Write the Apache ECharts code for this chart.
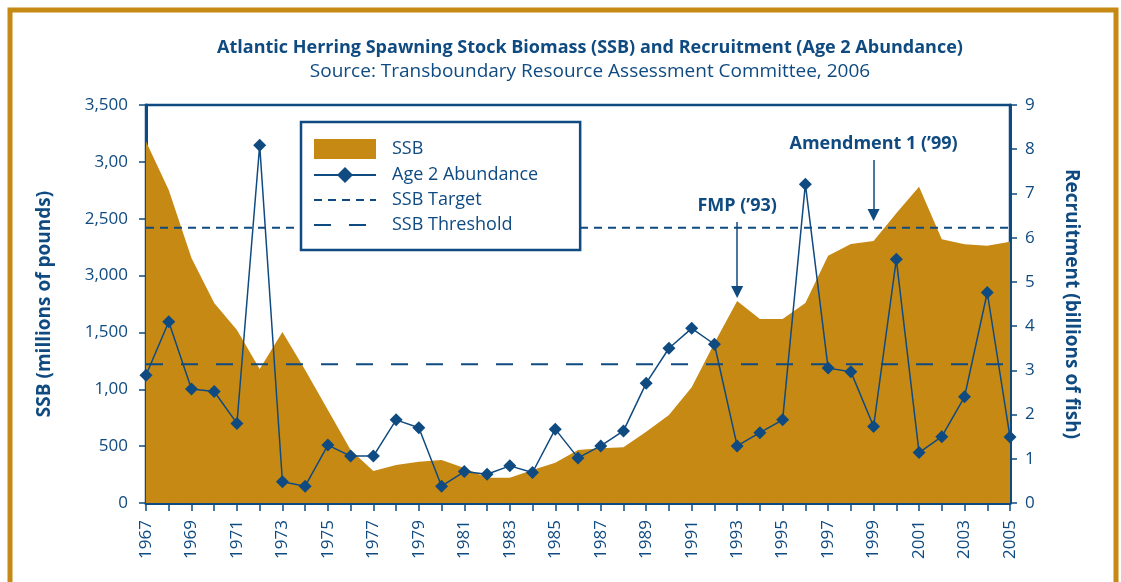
<!DOCTYPE html>
<html>
<head>
<meta charset="utf-8">
<style>
  html, body { margin: 0; padding: 0; background: #fff; }
  #chart { width: 1121px; height: 582px; }
</style>
<script src="https://cdn.jsdelivr.net/npm/echarts@6/dist/echarts.min.js"></script>
</head>
<body>
<div id="chart"></div>
<script>
// years on the x axis
const years = []
for (let y = 1967; y <= 2005; y++) years.push(String(y))

// SSB, millions of pounds (left axis)
const ssb = [3178, 2753, 2155, 1759, 1521, 1178, 1504, 1170, 818, 466, 281,
  334, 363, 378, 308, 222, 222, 290, 354, 466, 481, 490, 627, 774, 1017,
  1407, 1776, 1618, 1618, 1759, 2175, 2278, 2304, 2548, 2782, 2319, 2275, 2263, 2298]

// Age 2 abundance, billions of fish (right axis)
const age2 = [2.89, 4.10, 2.58, 2.52, 1.80, 8.09, 0.48, 0.38, 1.31, 1.06, 1.06,
  1.88, 1.70, 0.38, 0.71, 0.65, 0.84, 0.69, 1.67, 1.02, 1.29, 1.63, 2.71, 3.50, 3.95,
  3.59, 1.29, 1.59, 1.88, 7.21, 3.05, 2.97, 1.73, 5.51, 1.14, 1.50, 2.40, 4.76, 1.49]

const ssbTarget = 2420
const ssbThreshold = 1220

// left tick labels as printed (bottom to top)
const ssbTickLabels = ['0', '500', '1,00', '1,500', '3,000', '2,500', '3,00', '3,500']

// annotations: year, arrow top / arrow tip (left axis units)
const notes = [
  { text: 'FMP (\u201993)', year: '1993', top: 2471, tip: 1856 },
  { text: 'Amendment 1 (\u201999)', year: '1999', top: 3016, tip: 2533 }
]

const blue = '#0f4a80'
const gold = '#c68914'
const font = 'Open Sans'

const chart = echarts.init(document.getElementById('chart'))

const option = {
  animation: false,
  textStyle: { fontFamily: font, color: blue },
  title: {
    text: 'Atlantic Herring Spawning Stock Biomass (SSB) and Recruitment (Age 2 Abundance)',
    subtext: 'Source: Transboundary Resource Assessment Committee, 2006',
    left: 585, top: 34, textAlign: 'center', itemGap: 5,
    textStyle: { fontFamily: font, fontSize: 18, fontWeight: 'bold', color: blue },
    subtextStyle: { fontFamily: font, fontSize: 19, color: blue }
  },
  graphic: [{
    type: 'rect', silent: true, z: -1,
    shape: { x: 10, y: 10, width: 1106, height: 600 },
    style: { fill: 'none', stroke: gold, lineWidth: 5 }
  }],
  legend: {
    left: 301, top: 122, orient: 'vertical',
    backgroundColor: '#fff', borderColor: blue, borderWidth: 2.5,
    padding: [17, 42, 16, 12], itemGap: 7, itemWidth: 62, itemHeight: 20,
    textStyle: { fontFamily: font, fontSize: 18, color: blue, padding: [0, 0, 0, 11] },
    data: [
      { name: 'SSB', icon: 'rect' },
      'Age 2 Abundance',
      { name: 'SSB Target', itemStyle: { opacity: 0 } },
      { name: 'SSB Threshold', itemStyle: { opacity: 0 } }
    ]
  },
  grid: {
    left: 146, right: 111, top: 105, bottom: 79,
    show: true, borderColor: blue, borderWidth: 2.5, backgroundColor: 'transparent'
  },
  xAxis: {
    type: 'category', data: years, boundaryGap: false,
    axisLine: { lineStyle: { color: blue, width: 3 } },
    axisTick: { interval: 0, length: 8, lineStyle: { color: blue, width: 1.5 } },
    axisLabel: { interval: 1, rotate: 90, margin: 17, fontSize: 17, color: blue, fontFamily: font }
  },
  yAxis: [{
    type: 'value', min: 0, max: 3500, interval: 500,
    name: 'SSB (millions of pounds)', nameLocation: 'middle', nameGap: 92,
    nameTextStyle: { fontFamily: font, fontSize: 19, fontWeight: 'bold', color: blue },
    axisLine: { show: true, lineStyle: { color: blue, width: 3 } },
    axisTick: { show: true, length: 7, lineStyle: { color: blue, width: 1.5 } },
    splitLine: { show: false },
    axisLabel: {
      margin: 18, fontSize: 17, color: blue, fontFamily: font,
      formatter: v => ssbTickLabels[Math.round(v / 500)]
    }
  }, {
    type: 'value', min: 0, max: 9, interval: 1, position: 'right',
    name: 'Recruitment (billions of fish)', nameLocation: 'middle', nameGap: 52, nameRotate: -90,
    nameTextStyle: { fontFamily: font, fontSize: 19, fontWeight: 'bold', color: blue },
    axisLine: { show: true, lineStyle: { color: blue, width: 3 } },
    axisTick: { show: true, length: 7, lineStyle: { color: blue, width: 1.5 } },
    splitLine: { show: false },
    axisLabel: { margin: 15, fontSize: 17, color: blue, fontFamily: font }
  }],
  series: [{
    name: 'SSB', type: 'line', data: ssb, yAxisIndex: 0,
    symbol: 'none', z: 1,
    itemStyle: { color: gold },
    lineStyle: { width: 0, color: gold },
    areaStyle: { color: gold, opacity: 1 },
    markLine: {
      silent: true, symbol: ['none', 'triangle'], symbolSize: [12, 12],
      lineStyle: { color: blue, width: 1.5, type: 'solid' },
      label: {
        show: true, position: 'start', distance: 7,
        fontFamily: font, fontSize: 18, fontWeight: 'bold', color: blue,
        formatter: p => p.data.text
      },
      data: notes.map(n => [
        { coord: [n.year, n.top], text: n.text },
        { coord: [n.year, n.tip] }
      ])
    }
  }, {
    name: 'SSB Target', type: 'line', yAxisIndex: 0, symbol: 'none', z: 3,
    itemStyle: { color: blue },
    lineStyle: { color: blue, width: 2, type: [8, 6] },
    data: [[years[0], ssbTarget], [years[years.length - 1], ssbTarget]]
  }, {
    name: 'SSB Threshold', type: 'line', yAxisIndex: 0, symbol: 'none', z: 3,
    itemStyle: { color: blue },
    lineStyle: { color: blue, width: 2, type: [17, 18] },
    data: [[years[0], ssbThreshold], [years[years.length - 1], ssbThreshold]]
  }, {
    name: 'Age 2 Abundance', type: 'line', data: age2, yAxisIndex: 1,
    symbol: 'diamond', symbolSize: 13, z: 4,
    itemStyle: { color: blue },
    lineStyle: { color: blue, width: 1.5 }
  }]
}

chart.setOption(option)
</script>
</body>
</html>
